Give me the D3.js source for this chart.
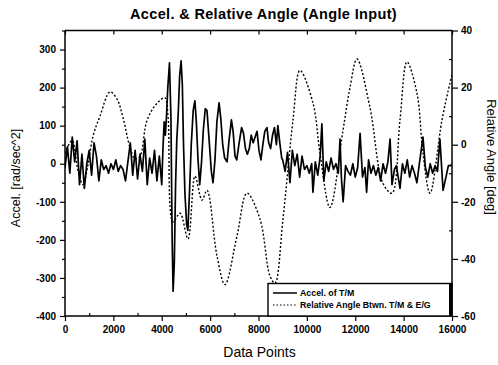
<!DOCTYPE html>
<html><head><meta charset="utf-8">
<script src="https://cdn.jsdelivr.net/npm/d3@7"></script>
<style>body{margin:0;background:#fff}svg{display:block}text{font-family:Arial,"Liberation Sans",sans-serif;fill:#000}</style>
</head><body><svg id="c" width="498" height="365"></svg>
<script>
// ---- data ----
const accelIndex = [0,100,200,300,400,500,600,700,800,900,1000,1100,1200,1300,1400,1500,1600,1700,1800,1900,2000,2100,2200,2300,2400,2500,2600,2700,2800,2900,3000,3100,3200,3300,3400,3500,3600,3700,3800,3900,4000,
4050,4100,4150,4200,4250,4320,4380,4430,4470,4520,4570,4620,4680,4740,4800,4850,4900,4960,5030,5080,5150,5220,5300,5370,5430,5500,5570,5640,5720,5800,5870,5950,6050,6120,6200,6280,6370,6440,6520,6600,6700,6780,6880,6950,7030,7100,7200,7300,7380,7460,7540,7620,7700,7780,7860,7940,8020,8100,8180,8260,8350,8420,8500,8580,8660,8740,8800,8880,8960,
9000,9100,9200,9300,9400,9500,9600,9700,9800,9900,10000,10100,10200,10250,10350,10450,10550,10620,10700,10800,10900,11000,11100,11200,11300,11370,11430,11500,11600,11700,11800,11900,12000,12100,12200,12300,12400,12470,12550,12650,12750,12850,12950,13050,13150,13250,13350,13440,13520,13620,13700,13850,13950,14050,14150,14250,14350,14450,14550,14650,14800,14900,15000,15100,15200,15300,15400,15500,15630,15750,15850,15950,16000];
const accelValue = [-10,45,-25,70,5,60,-55,25,-65,0,35,-30,55,20,-45,10,-15,-5,-25,0,-15,10,-20,-5,-15,-45,5,55,-30,35,-40,25,-20,65,-55,15,-25,35,-45,20,-55,
40,110,75,130,200,265,120,-200,-335,-260,-60,60,130,230,270,210,50,-80,-160,-175,-70,50,140,165,110,10,-55,0,90,145,140,70,-20,-50,10,110,160,120,50,15,5,60,115,85,20,10,55,95,80,40,25,40,75,55,70,85,35,10,50,85,95,55,40,75,95,50,100,55,15,
10,-20,30,-50,35,-5,25,-35,20,-15,-5,-25,0,-75,5,-30,20,105,-45,5,-20,15,-15,0,-25,65,-40,-100,-5,-20,-30,0,-35,-10,80,-35,-10,-75,10,-25,-5,-30,-10,-45,0,-25,5,65,-55,-15,-5,-65,0,-25,10,-35,-5,-25,-50,0,70,-10,-35,0,-25,-5,-20,65,-70,-35,-5,-5,0];

const angleIndex = [0,290,537,744,951,1158,1447,1860,2150,2398,2687,2894,3100,3390,3803,4134,4258,4465,4754,5085,5374,5664,5871,6284,6614,7110,7524,8061,8475,8681,9012,9426,9715,10252,10542,10955,11493,11782,12071,12609,13146,13518,13849,14138,14552,14800,15089,15585,15916,16000];
const angleValue = [-3,1.5,-9,-14,-7,3,10,18.5,16,9.5,-1,-5,-4,8.5,14.5,16.4,10,-27,-24,-33,-11,-19.4,-16,-39,-49,-32,-17,-26,-46,-48.5,-26,8.6,26,14.6,-3,-22,5,20,30,13,-13.5,-17,8.6,29,18,-3,-17,8.6,21.6,24.4];

const xTicks = [0,2000,4000,6000,8000,10000,12000,14000,16000];
const xMinor = [1000,3000,5000,7000,9000,11000,13000,15000];
const leftTicks = [300,200,100,0,-100,-200,-300,-400];
const leftMinor = [350,250,150,50,-50,-150,-250,-350];
const rightTicks = [40,20,0,-20,-40,-60];
const rightMinor = [30,10,-10,-30,-50];
const titleText = "Accel. & Relative Angle (Angle Input)";
const legendLabels = ["Accel. of T/M","Relative Angle Btwn. T/M & E/G"];

// ---- layout ----
const L=65,R=452,T=30.5,B=316;
const svg=d3.select("#c");
const x=d3.scaleLinear().domain([0,16000]).range([L,R]);
const yL=d3.scaleLinear().domain([-400,350]).range([B,T]);
const yR=d3.scaleLinear().domain([-60,40]).range([B,T]);

svg.append("defs").append("clipPath").attr("id","clip")
  .append("rect").attr("x",L).attr("y",T).attr("width",R-L).attr("height",B-T);

const g=svg.append("g").attr("clip-path","url(#clip)");
const accel=accelIndex.map((d,i)=>[d,accelValue[i]]);
const angle=angleIndex.map((d,i)=>[d,angleValue[i]]);

g.append("path").datum(angle)
  .attr("d",d3.line().x(d=>x(d[0])).y(d=>yR(d[1])).curve(d3.curveCatmullRom.alpha(0.5)))
  .attr("fill","none").attr("stroke","#000").attr("stroke-width",1.4).attr("stroke-dasharray","2,2");
g.append("path").datum(accel)
  .attr("d",d3.line().x(d=>x(d[0])).y(d=>yL(d[1])))
  .attr("fill","none").attr("stroke","#000").attr("stroke-width",1.7).attr("stroke-linejoin","round");

// axes
function style(sel){
  sel.select(".domain").remove();
  sel.selectAll("line").attr("stroke","#000").attr("stroke-width",1.2);
  sel.selectAll("text").attr("font-size","10px").attr("font-weight","bold").attr("font-family","Arial, 'Liberation Sans', sans-serif");
}
const fmt=d=>String(d);
svg.append("g").attr("transform",`translate(${L},0)`)
  .call(d3.axisLeft(yL).tickValues(leftTicks).tickSize(5).tickPadding(4).tickFormat(fmt)).call(style);
svg.append("g").attr("transform",`translate(${L},0)`)
  .call(d3.axisLeft(yL).tickValues(leftMinor).tickSize(3).tickFormat("")).call(style);
svg.append("g").attr("transform",`translate(${R},0)`)
  .call(d3.axisRight(yR).tickValues(rightTicks).tickSize(6).tickPadding(3).tickFormat(fmt)).call(style);
svg.append("g").attr("transform",`translate(${R},0)`)
  .call(d3.axisLeft(yR).tickValues(rightMinor).tickSize(3).tickFormat("")).call(style);
svg.append("g").attr("transform",`translate(0,${B})`)
  .call(d3.axisBottom(x).tickValues(xTicks).tickSize(5).tickPadding(5).tickFormat(fmt)).call(style);
svg.append("g").attr("transform",`translate(0,${B})`)
  .call(d3.axisTop(x).tickValues(xMinor).tickSize(3).tickFormat("")).call(style);
svg.append("g").attr("transform",`translate(0,${T})`)
  .call(d3.axisBottom(x).tickValues(xTicks).tickSize(4).tickFormat("")).call(style);

// frame lines
[[L,T,R,T],[L,B,R,B],[L,T,L,B],[R,T,R,B]].forEach(a=>{
  svg.append("line").attr("x1",a[0]).attr("y1",a[1]).attr("x2",a[2]).attr("y2",a[3])
    .attr("stroke","#000").attr("stroke-width",1.5);
});

// titles
svg.append("text").attr("x",263.5).attr("y",19).attr("text-anchor","middle")
  .attr("font-size","14.5px").attr("font-weight","bold").attr("letter-spacing","0.35px").text(titleText);
svg.append("text").attr("transform","translate(20,178) rotate(-90)").attr("text-anchor","middle")
  .attr("font-size","12.5px").text("Accel. [rad/sec^2]");
svg.append("text").attr("transform","translate(487,157) rotate(90)").attr("text-anchor","middle")
  .attr("font-size","13px").text("Relative Angle [deg]");
svg.append("text").attr("x",259.5).attr("y",357).attr("text-anchor","middle")
  .attr("font-size","14px").text("Data Points");

// legend
const lg=svg.append("g");
lg.append("rect").attr("x",268).attr("y",283.5).attr("width",R-268).attr("height",B-283.5)
  .attr("fill","#fff").attr("stroke","#000").attr("stroke-width",1.4);
lg.append("line").attr("x1",R-1.5).attr("x2",R-1.5).attr("y1",284).attr("y2",B)
  .attr("stroke","#000").attr("stroke-width",3);
lg.append("line").attr("x1",273).attr("x2",297).attr("y1",293).attr("y2",293)
  .attr("stroke","#000").attr("stroke-width",1.5);
lg.append("line").attr("x1",273).attr("x2",297).attr("y1",305).attr("y2",305)
  .attr("stroke","#000").attr("stroke-width",1.2).attr("stroke-dasharray","1.5,2");
legendLabels.forEach((t,i)=>{
  lg.append("text").attr("x",300).attr("y",296+i*12).attr("font-size","8.8px").attr("font-weight","bold").text(t);
});
</script></body></html>
